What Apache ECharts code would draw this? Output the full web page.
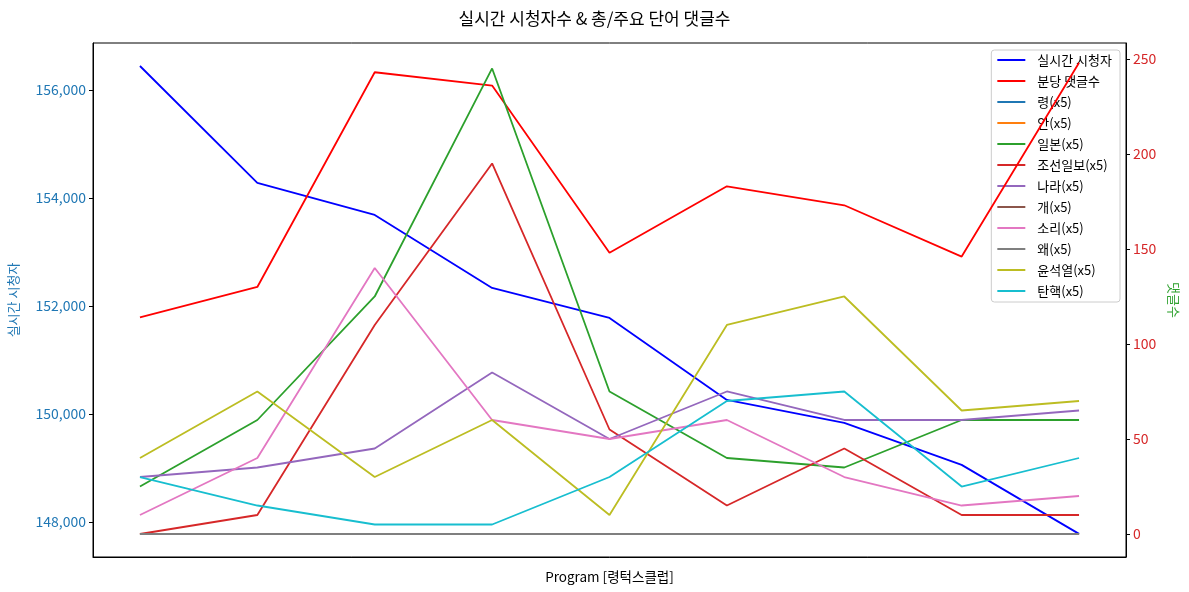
<!DOCTYPE html>
<html><head><meta charset="utf-8">
<script src="https://cdn.jsdelivr.net/npm/echarts@6/dist/echarts.min.js"></script>
<style>html,body{margin:0;padding:0;background:#fff}#c{width:1189px;height:592px}</style>
</head><body><div id="c"></div>
<script>
const programs = ['1','2','3','4','5','6','7','8','9'];
const viewers = [156444, 154278, 153685, 152333, 151778, 150259, 149833, 149056, 147778];
const commentsPerMin = [114, 130, 243, 236, 148, 183, 173, 146, 248];
const wordNames = ['령(x5)','안(x5)','일본(x5)','조선일보(x5)','나라(x5)','개(x5)','소리(x5)','왜(x5)','윤석열(x5)','탄핵(x5)'];
const wordRyeong = [0,0,0,0,0,0,0,0,0];
const wordAn = [0,0,0,0,0,0,0,0,0];
const wordJapan = [25, 60, 125, 245, 75, 40, 35, 60, 60];
const wordChosun = [0, 10, 110, 195, 55, 15, 45, 10, 10];
const wordNara = [30, 35, 45, 85, 50, 75, 60, 60, 65];
const wordGae = [0,0,0,0,0,0,0,0,0];
const wordSori = [10, 40, 140, 60, 50, 60, 30, 15, 20];
const wordWae = [0,0,0,0,0,0,0,0,0];
const wordYoon = [40, 75, 30, 60, 10, 110, 125, 65, 70];
const wordTanhaek = [30, 15, 5, 5, 30, 70, 75, 25, 40];
const leftTicks = [148000, 150000, 152000, 154000, 156000];
const rightTicks = [0, 50, 100, 150, 200, 250];

const wordData = [wordRyeong, wordAn, wordJapan, wordChosun, wordNara, wordGae, wordSori, wordWae, wordYoon, wordTanhaek];
const wordColors = ['#1f77b4','#ff7f0e','#2ca02c','#d62728','#9467bd','#8c564b','#e377c2','#7f7f7f','#bcbd22','#17becf'];
const font = "'Noto Sans CJK KR', 'DejaVu Sans', sans-serif";
const pts = arr => arr.map((v,i)=>[i,v]);

const series = [
  {name:'실시간 시청자', type:'line', yAxisIndex:0, data:pts(viewers), color:'#0000ff', z:2},
  {name:'분당 댓글수', type:'line', yAxisIndex:1, data:pts(commentsPerMin), color:'#ff0000', z:3}
];
wordNames.forEach((n,k)=>series.push({name:n, type:'line', yAxisIndex:1, data:pts(wordData[k]), color:wordColors[k], z:3}));
series.forEach(s=>{s.showSymbol=false; s.symbol='none'; s.lineStyle={width:1.8}; s.animation=false; s.emphasis={disabled:true};});

const chart = echarts.init(document.getElementById('c'), null, {renderer:'canvas'});
chart.setOption({
  animation:false,
  textStyle:{fontFamily:font},
  title:{text:'실시간 시청자수 & 총/주요 단어 댓글수', left:'center', top:5, textStyle:{fontSize:17, fontWeight:'normal', color:'#000', fontFamily:font}},
  grid:{left:93, right:63, top:43, bottom:35, show:true, borderColor:'#000', borderWidth:1, containLabel:false, outerBoundsMode:'none'},
  legend:{
    orient:'vertical', right:69, top:50, z:2.5,
    backgroundColor:'rgba(255,255,255,0.8)', borderColor:'#ccc', borderWidth:1, borderRadius:3,
    padding:[3,8,4,6], itemGap:7, itemWidth:28, itemHeight:2, icon:'rect',
    textStyle:{fontSize:13, lineHeight:14, color:'#000', fontFamily:font, padding:[0,0,0,7]},
    data: series.map(s=>s.name)
  },
  xAxis:{type:'value', min:-0.4, max:8.4, name:'Program [령턱스클럽]', nameLocation:'middle', nameGap:13,
    nameTextStyle:{fontSize:13.5, color:'#000', fontFamily:font},
    axisLine:{show:true, onZero:false, lineStyle:{color:'#000'}}, axisTick:{show:false}, axisLabel:{show:false}, splitLine:{show:false}},
  yAxis:[
    {type:'value', position:'left', min:147350, max:156870, name:'실시간 시청자', nameLocation:'middle', nameGap:73,
      nameTextStyle:{fontSize:13, color:'#1f77b4', fontFamily:font},
      axisLine:{show:true, onZero:false, lineStyle:{color:'#000'}},
      axisTick:{show:true, length:4, lineStyle:{color:'#000'}, customValues:leftTicks},
      axisLabel:{color:'#1f77b4', fontSize:14, margin:7, customValues:leftTicks, formatter:v=>v.toLocaleString('en-US')},
      splitLine:{show:false}},
    {type:'value', position:'right', min:-12.1, max:258.4, name:'댓글수', nameLocation:'middle', nameGap:41, nameRotate:-90,
      nameTextStyle:{fontSize:13, color:'#2ca02c', fontFamily:font},
      axisLine:{show:true, onZero:false, lineStyle:{color:'#000'}},
      axisTick:{show:true, length:4, lineStyle:{color:'#000'}, customValues:rightTicks},
      axisLabel:{color:'#d62728', fontSize:14, margin:7, customValues:rightTicks},
      splitLine:{show:false}}
  ],
  series: series
});
</script></body></html>
